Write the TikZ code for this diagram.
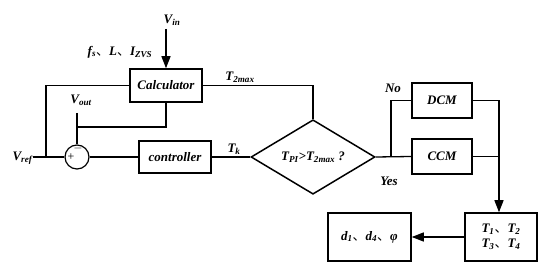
\documentclass[tikz,border=0pt]{standalone}
\usepackage{fontspec}
\setmainfont{Liberation Serif}
\newfontfamily\cjk{Noto Sans CJK SC}
\newcommand{\dn}{{\cjk\mdseries\upshape 、}}
\usetikzlibrary{arrows.meta,shapes.geometric}
\begin{document}
\begin{tikzpicture}[x=1pt,y=-1pt,line width=1.3pt,
  every node/.style={font=\bfseries\itshape\fontsize{13}{15}\selectfont},
  box/.style={draw,line width=1.5pt,inner sep=0pt},
  arr/.style={-{Triangle[length=12pt,width=9pt]}},
  sgn/.style={font=\fontsize{12}{12}\selectfont,inner sep=0pt}]
\useasboundingbox (0,0) rectangle (550,275);
% blocks
\node[box,minimum width=72pt,minimum height=33pt] (calc) at (166,85.5) {Calculator};
\node[box,line width=1.2pt,minimum width=72pt,minimum height=32pt] (ctrl) at (175,157) {controller};
\node[draw,diamond,line width=1.5pt,minimum width=124pt,minimum height=72pt,inner sep=0pt] (dia) at (313,157) {T\textsubscript{PI}>T\textsubscript{2max} ?};
\node[draw,circle,line width=1.2pt,minimum size=24pt,inner sep=0pt] (sum) at (77,157) {};
\node[sgn] (minus) at (78,148.5) {$-$};
\node[sgn] (plus) at (71,157.5) {+};
\node[box,minimum width=60pt,minimum height=35pt] (dcm) at (442,100.5) {DCM};
\node[box,minimum width=60pt,minimum height=35pt] (ccm) at (442,156.5) {CCM};
\node[box,minimum width=72pt,minimum height=48pt,align=center] (tbox) at (501,237) {T\textsubscript{1}\dn T\textsubscript{2}\\T\textsubscript{3}\dn T\textsubscript{4}};
\node[box,minimum width=83pt,minimum height=48pt] (dbox) at (369.5,237) {d\textsubscript{1}\dn d\textsubscript{4}\dn φ};
% labels
\node (vinl) at (172,20) {V\textsubscript{in}};
\node (fsl) at (120,52) {f\textsubscript{s}\dn L\dn I\textsubscript{ZVS}};
\node (voutl) at (81,100) {V\textsubscript{out}};
\node[anchor=east,inner sep=1pt] (vrefl) at (34,158) {V\textsubscript{ref}};
\node (t2l) at (240,77) {T\textsubscript{2max}};
\node (tkl) at (234,149) {T\textsubscript{k}};
\node (nol) at (393,88) {No};
\node (yesl) at (389,181) {Yes};
% coordinates
\coordinate (vin) at (166,29);
\coordinate (jl) at (46,157);
\coordinate (vref) at (33,157);
\coordinate (vo) at (77,113);
\coordinate (vj) at (77,127);
\coordinate (jr) at (391,157);
\coordinate (jd) at (499,100.5);
% connectors
\draw[arr] (vin) -- (calc.north);
\draw (calc.west) -| (jl);
\draw (vref) -- (sum.west);
\draw (vo) -- (sum.north);
\draw (calc.south) |- (vj);
\draw (sum.east) -- (ctrl.west);
\draw (ctrl.east) -- (dia.west);
\draw (calc.east) -| (dia.north);
\draw (dia.east) -- (ccm.west);
\draw (jr) |- (dcm.west);
\draw (dcm.east) -- (jd);
\draw (ccm.east) -- (jd |- ccm.east);
\draw[arr] (jd) -- (jd |- tbox.north);
\draw[arr] (tbox.west) -- (dbox.east);
\end{tikzpicture}
\end{document}
